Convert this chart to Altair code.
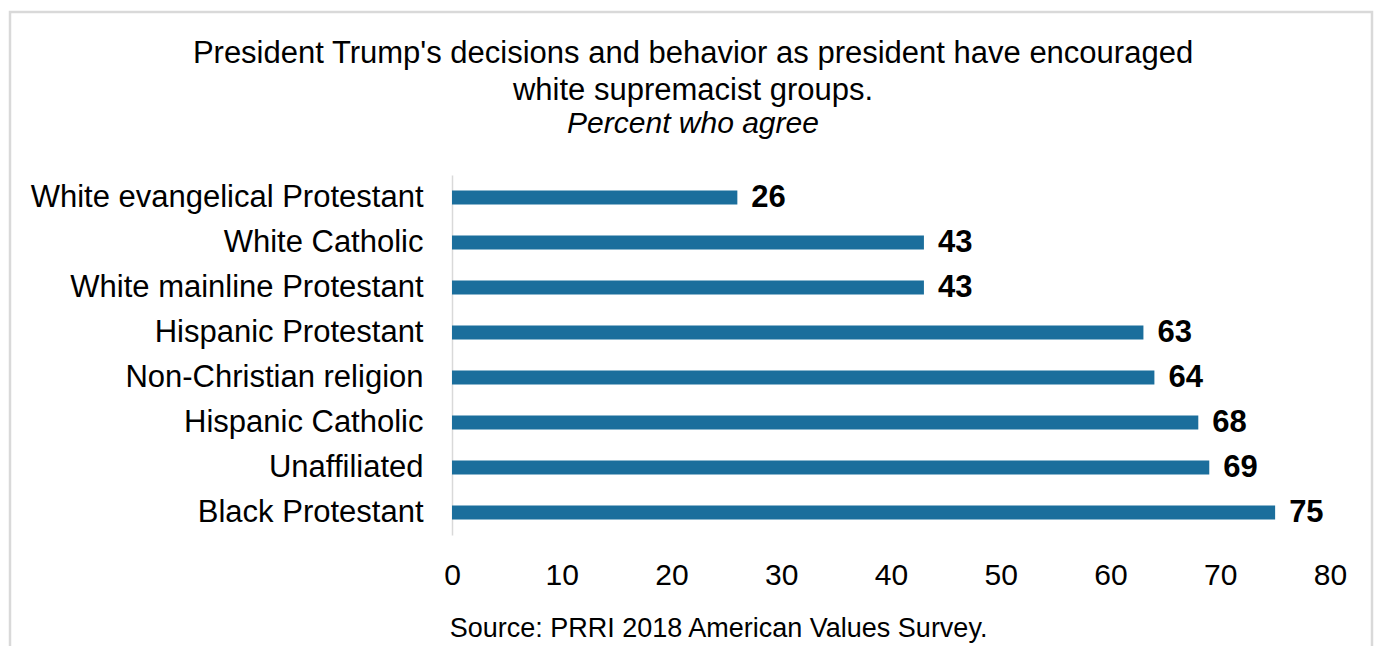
import altair as alt
import pandas as pd

categories = [
    "White evangelical Protestant",
    "White Catholic",
    "White mainline Protestant",
    "Hispanic Protestant",
    "Non-Christian religion",
    "Hispanic Catholic",
    "Unaffiliated",
    "Black Protestant",
]
values = [26, 43, 43, 63, 64, 68, 69, 75]
x_ticks = [0, 10, 20, 30, 40, 50, 60, 70, 80]

df = pd.DataFrame({"group": categories, "pct": values})

FONT = "Liberation Sans"
BAR = "#1b6e9c"

y_enc = alt.Y(
    "group:N",
    sort=categories,
    scale=alt.Scale(paddingInner=0.69, paddingOuter=0.345),
    axis=alt.Axis(
        title=None, ticks=False, labelFontSize=31, labelFont=FONT,
        labelColor="#000000", labelPadding=29, domainColor="#d9d9d9",
        domainWidth=1.5, labelLimit=600,
    ),
)
x_enc = alt.X(
    "pct:Q",
    scale=alt.Scale(domain=[0, 80], nice=False),
    axis=alt.Axis(
        values=x_ticks, grid=False, domain=False, ticks=False,
        labelFontSize=30, labelFont=FONT, labelColor="#000000",
        labelPadding=25, labelFlush=False,
        title="Source: PRRI 2018 American Values Survey.",
        titleFont=FONT, titleFontSize=27, titleFontWeight="normal",
        titleColor="#000000", titleX=266, titleY=93,
        titleBaseline="middle", titleAlign="center",
    ),
)

bars = alt.Chart(df).mark_bar(color=BAR).encode(x=x_enc, y=y_enc)

labels = alt.Chart(df).mark_text(
    align="left", baseline="middle", dx=14, fontSize=31,
    fontWeight="bold", font=FONT, color="#000000",
).encode(x="pct:Q", y=alt.Y("group:N", sort=categories), text="pct:Q")

frame = alt.Chart(alt.Data(values=[{}])).mark_rect(
    fill=None, stroke="#d9d9d9", strokeWidth=2.5,
).encode(
    x=alt.value(-442), x2=alt.value(920),
    y=alt.value(-163), y2=alt.value(480),
)

chart = alt.layer(frame, bars, labels).properties(
    width=878,
    height=360,
    padding={"left": 444, "top": 167, "right": 44, "bottom": 111},
    autosize=alt.AutoSizeParams(type="none"),
    title=alt.TitleParams(
        text=["President Trump's decisions and behavior as president have encouraged",
              "white supremacist groups."],
        subtitle="Percent who agree",
        font=FONT, fontSize=31, fontWeight="normal", color="#000000",
        lineHeight=37, anchor="middle", offset=34, dx=-198, dy=163,
        subtitleFont=FONT, subtitleFontSize=30, subtitleFontStyle="italic",
        subtitleColor="#000000", subtitlePadding=2,
    ),
).configure(background="white").configure_view(stroke="transparent", strokeWidth=0)

chart.save("out.html", embed_options={"renderer": "svg", "actions": False})
